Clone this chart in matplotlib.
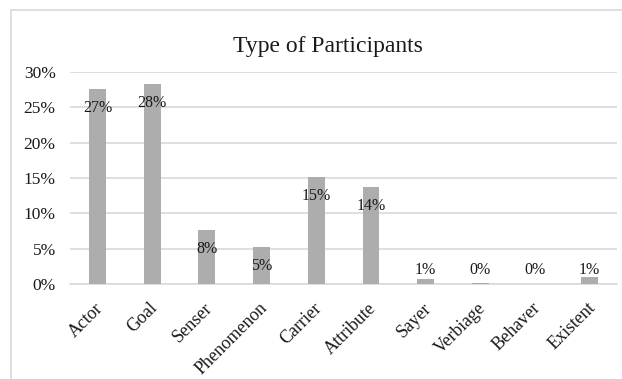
import matplotlib.pyplot as plt
import matplotlib.transforms as mtransforms
from matplotlib.lines import Line2D
from matplotlib.ticker import PercentFormatter

categories = ['Actor', 'Goal', 'Senser', 'Phenomenon', 'Carrier',
              'Attribute', 'Sayer', 'Verbiage', 'Behaver', 'Existent']
values = [27.5, 28.3, 7.7, 5.3, 15.1, 13.7, 0.8, 0.2, 0.0, 1.0]
labels = ['27%', '28%', '8%', '5%', '15%', '14%', '1%', '0%', '0%', '1%']

plt.rcParams['font.family'] = ['Liberation Serif', 'DejaVu Serif']

fig = plt.figure(figsize=(6.22, 3.79), dpi=100)
ax = fig.add_axes([0.113, 0.25, 0.879, 0.561])

x = range(len(categories))
ax.bar(x, values, width=0.31, color='#ADADAD', zorder=3)

# data labels, Excel "inside end" style
for i, v in enumerate(values):
    y = max(v - 2.7, 2.0)
    ax.text(i, y, labels[i], ha='center', va='center', fontsize=11.5,
            color='#1a1a1a', zorder=4)

ax.set_xlim(-0.5, len(categories) - 0.5)
ax.set_ylim(0, 30)
ax.set_yticks(range(0, 31, 5))
ax.yaxis.set_major_formatter(PercentFormatter(decimals=0))
ax.grid(axis='y', color='#D9D9D9', linewidth=1.2, zorder=0)
ax.set_xticks(list(x))
ax.set_xticklabels(categories, rotation=45, ha='right', rotation_mode='anchor')
ax.tick_params(axis='y', length=0, labelsize=12.5, colors='#1a1a1a', pad=10.5)
ax.tick_params(axis='x', length=0, labelsize=13, colors='#1a1a1a', pad=11)
shift = mtransforms.ScaledTranslation(-3 / 100, 0, fig.dpi_scale_trans)
for lab in ax.get_xticklabels():
    lab.set_transform(lab.get_transform() + shift)
for s in ['top', 'right', 'left']:
    ax.spines[s].set_visible(False)
ax.spines['bottom'].set_color('#D9D9D9')
ax.spines['bottom'].set_linewidth(1.2)

fig.text(0.528, 0.878, 'Type of Participants', ha='center', va='center',
         fontsize=17, color='#1a1a1a')

# chart frame (cut off at right and bottom)
fig.add_artist(Line2D([11 / 622, 11 / 622], [0, 1 - 10 / 379],
                      color='#D9D9D9', linewidth=1.2))
fig.add_artist(Line2D([11 / 622, 1], [1 - 10 / 379, 1 - 10 / 379],
                      color='#D9D9D9', linewidth=1.2))

fig.savefig('out.png', dpi=100)
